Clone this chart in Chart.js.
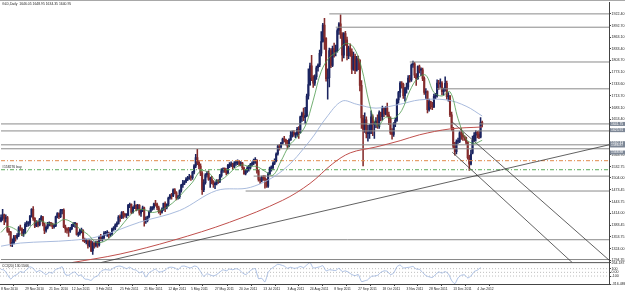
<!DOCTYPE html>
<html>
<head>
<meta charset="utf-8">
<script src="https://cdn.jsdelivr.net/npm/chart.js@4.4.1/dist/chart.umd.min.js"></script>
<style>
  html, body { margin: 0; padding: 0; background: #fff; }
  #wrap { width: 625px; height: 294px; }
</style>
</head>
<body>
<div id="wrap"><canvas id="chart" width="625" height="294"></canvas></div>
<script>
// GOLD daily, 8 Nov 2010 .. 11 Jan 2012 (one entry per bar)
const opens = [1394,1403,1410,1400,1403,1368,1366,1337,1338,1354,1352,1358,1377,1374,1363,1366,1386,1388,1389,1406,
  1424,1401,1382,1391,1384,1398,1405,1387,1370,1378,1387,1389,1387,1380,1382,1405,1413,1405,1421,1422,
  1379,1374,1371,1369,1375,1384,1387,1388,1360,1362,1370,1371,1344,1342,1344,1332,1342,1318,1337,1332,
  1340,1333,1353,1349,1352,1363,1363,1363,1360,1362,1374,1376,1384,1388,1404,1403,1416,1410,1409,1410,
  1434,1436,1416,1429,1434,1425,1434,1414,1421,1428,1395,1395,1405,1418,1427,1428,1438,1437,1428,1418,
  1417,1424,1439,1429,1437,1453,1460,1458,1474,1466,1453,1456,1472,1486,1491,1495,1501,1503,1506,1505,
  1519,1535,1556,1544,1534,1516,1474,1492,1512,1516,1500,1501,1492,1487,1490,1496,1495,1510,1523,1527,
  1526,1517,1536,1536,1540,1533,1542,1543,1545,1540,1542,1530,1515,1522,1529,1531,1539,1542,1549,1549,
  1522,1500,1498,1506,1504,1500,1483,1515,1530,1530,1541,1548,1565,1585,1583,1593,1603,1601,1595,1586,
  1601,1613,1620,1615,1615,1628,1620,1660,1668,1658,1663,1713,1742,1790,1760,1746,1762,1785,1792,1822,
  1852,1894,1860,1757,1760,1829,1791,1834,1826,1829,1880,1897,1871,1817,1872,1856,1816,1835,1826,1781,
  1814,1778,1808,1804,1740,1657,1628,1652,1617,1617,1623,1660,1640,1643,1649,1635,1671,1660,1682,1667,
  1682,1665,1656,1619,1615,1642,1651,1703,1722,1746,1743,1714,1732,1736,1759,1754,1792,1795,1766,1757,
  1788,1779,1780,1758,1722,1724,1678,1699,1686,1685,1712,1713,1746,1744,1746,1724,1730,1745,1711,1712,
  1665,1632,1585,1571,1597,1597,1619,1614,1610,1607,1595,1556,1539,1567,1600,1613,1620,1616,1608,1646.05]
const highs = [1410,1424,1412,1410,1406,1375,1368,1349,1358,1358,1362,1380,1384,1377,1373,1390,1394,1393,1409,1426,
  1431,1403,1395,1394,1401,1408,1406,1389,1382,1391,1392,1391,1389,1386,1407,1416,1415,1424,1424,1425,
  1384,1377,1378,1378,1386,1390,1391,1389,1366,1373,1376,1372,1351,1348,1345,1346,1344,1342,1339,1343,
  1343,1356,1360,1357,1367,1368,1370,1366,1365,1376,1380,1387,1392,1408,1410,1418,1419,1414,1413,1437,
  1440,1438,1431,1445,1436,1437,1436,1424,1432,1430,1405,1407,1420,1431,1431,1440,1447,1440,1432,1422,
  1428,1440,1443,1438,1455,1462,1465,1476,1477,1469,1460,1474,1488,1498,1497,1505,1508,1513,1510,1521,
  1538,1564,1577,1548,1540,1520,1500,1515,1520,1522,1506,1508,1497,1494,1500,1500,1513,1528,1530,1530,
  1528,1539,1543,1545,1542,1546,1548,1550,1548,1546,1544,1532,1526,1533,1536,1541,1545,1552,1556,1551,
  1525,1505,1509,1510,1510,1502,1518,1532,1535,1545,1553,1568,1588,1590,1595,1606,1610,1603,1600,1604,
  1623,1624,1625,1620,1633,1635,1662,1672,1682,1684,1718,1782,1797,1817,1765,1767,1789,1795,1830,1877,
  1898,1911,1862,1782,1835,1834,1840,1848,1843,1885,1900,1920,1875,1875,1878,1863,1840,1846,1833,1825,
  1820,1814,1815,1806,1752,1664,1670,1660,1638,1640,1675,1665,1648,1658,1665,1675,1672,1687,1684,1686,
  1695,1672,1660,1630,1645,1656,1706,1725,1750,1750,1746,1735,1746,1765,1766,1795,1802,1799,1770,1790,
  1792,1785,1784,1762,1732,1726,1705,1700,1697,1718,1720,1754,1753,1757,1750,1733,1762,1751,1722,1715,
  1672,1633,1595,1601,1606,1622,1630,1619,1612,1608,1597,1562,1575,1611,1620,1625,1623,1624,1658,1648.95]
const lows = [1392,1396,1385,1391,1365,1358,1330,1329,1336,1343,1348,1354,1370,1357,1355,1362,1380,1381,1383,1404,
  1396,1377,1380,1379,1382,1394,1382,1362,1366,1374,1382,1381,1375,1376,1380,1402,1400,1403,1412,1377,
  1365,1363,1355,1365,1372,1380,1378,1358,1355,1358,1364,1342,1339,1336,1325,1328,1316,1309,1325,1328,
  1327,1330,1344,1343,1349,1358,1355,1351,1355,1358,1370,1372,1380,1386,1393,1400,1401,1404,1402,1408,
  1428,1413,1414,1426,1420,1422,1409,1406,1418,1381,1388,1392,1402,1416,1422,1424,1432,1423,1414,1410,
  1414,1421,1418,1425,1432,1450,1450,1456,1463,1448,1450,1452,1468,1480,1487,1492,1497,1500,1498,1500,
  1514,1530,1538,1527,1510,1462,1469,1488,1506,1498,1480,1489,1480,1477,1486,1490,1492,1506,1518,1518,
  1512,1515,1530,1533,1526,1530,1536,1538,1535,1535,1526,1513,1512,1518,1521,1527,1535,1538,1541,1516,
  1496,1490,1494,1498,1478,1480,1480,1512,1521,1525,1538,1545,1562,1575,1580,1590,1596,1588,1578,1583,
  1600,1608,1610,1607,1610,1605,1618,1648,1650,1643,1660,1705,1740,1752,1735,1740,1755,1776,1788,1815,
  1850,1832,1751,1705,1736,1785,1788,1812,1815,1825,1870,1860,1802,1810,1842,1805,1808,1814,1770,1778,
  1770,1776,1780,1726,1630,1535,1620,1606,1598,1605,1617,1612,1605,1632,1630,1630,1650,1652,1660,1665,
  1660,1640,1615,1603,1610,1635,1648,1695,1710,1733,1707,1700,1720,1730,1748,1750,1786,1760,1740,1755,
  1772,1765,1752,1717,1707,1670,1674,1680,1678,1683,1706,1710,1730,1735,1716,1715,1725,1705,1700,1660,
  1625,1580,1562,1565,1592,1594,1602,1600,1600,1590,1552,1523,1537,1565,1597,1598,1606,1604,1606,1634.35]
const closes = [1403,1410,1400,1403,1368,1366,1337,1338,1354,1352,1358,1377,1373,1363,1366,1386,1388,1389,1406,1424,
  1401,1382,1391,1384,1398,1405,1387,1370,1378,1387,1389,1387,1379,1382,1405,1413,1405,1421,1422,1379,
  1374,1371,1369,1375,1384,1387,1388,1360,1362,1370,1371,1344,1342,1344,1332,1342,1318,1337,1332,1340,
  1333,1353,1349,1352,1363,1363,1363,1360,1362,1374,1376,1384,1388,1404,1403,1416,1410,1409,1410,1434,
  1436,1416,1429,1434,1425,1434,1414,1421,1428,1395,1395,1405,1418,1427,1428,1438,1437,1428,1418,1417,
  1424,1439,1429,1437,1453,1460,1458,1474,1466,1453,1456,1472,1486,1491,1495,1501,1503,1506,1505,1519,
  1535,1556,1544,1534,1516,1474,1492,1512,1516,1500,1501,1492,1487,1490,1496,1495,1510,1523,1527,1526,
  1517,1536,1536,1540,1533,1542,1543,1545,1540,1542,1530,1515,1522,1529,1531,1539,1542,1549,1549,1522,
  1500,1498,1506,1504,1500,1483,1515,1530,1530,1541,1548,1565,1585,1583,1593,1603,1601,1595,1586,1601,
  1613,1620,1615,1615,1628,1620,1660,1668,1658,1663,1713,1742,1790,1760,1746,1762,1785,1792,1822,1852,
  1894,1860,1757,1760,1829,1791,1834,1826,1829,1880,1897,1871,1817,1872,1856,1816,1835,1826,1781,1814,
  1778,1808,1804,1740,1657,1628,1652,1617,1617,1623,1660,1640,1643,1649,1635,1671,1660,1682,1667,1682,
  1665,1656,1619,1615,1642,1651,1703,1722,1746,1743,1714,1732,1736,1759,1754,1792,1795,1766,1757,1788,
  1779,1780,1758,1722,1724,1678,1699,1686,1685,1712,1713,1746,1744,1746,1724,1730,1745,1711,1712,1665,
  1632,1585,1571,1597,1597,1619,1614,1610,1607,1595,1556,1539,1565,1600,1613,1620,1616,1608,1645,1640.95]

// moving averages (bar index, price)
const fastMaIdx = [0,4,9,14,19,24,29,34,39,44,49,54,59,64,69,74,79,84,89,94,99,104,109,114,119,124,129,134,139,144,
  149,154,159,164,169,174,179,184,189,194,199,204,209,214,219,224,229,234,239,244,249,254,259,264,269,274,279,284,289,294,299]
const fastMaVal = [1365,1380,1373,1358,1383,1395,1388,1387,1398,1391,1374,1360,1340,1342,1357,1378,1403,1422,1423,1416,
  1421,1432,1449,1471,1493,1522,1518,1496,1505,1524,1537,1534,1533,1521,1511,1547,1586,1608,1636,1702,1776,1811,1826,1847,
  1838,1786,1692,1636,1659,1656,1676,1726,1759,1766,1722,1713,1724,1655,1603,1592,1600]
const midMaIdx = [0,12,44,61,86,111,134,155,175,192,202,212,221,233,248,260,277,289,299]
const midMaVal = [1330,1338,1345,1355,1391,1421,1472,1480,1523,1599,1657,1700,1692,1682,1692,1703,1703,1687,1662]
const slowMaIdx = [44,74,107,142,175,192,206,217,233,248,260,279,299]
const slowMaVal = [1288.1,1310,1345,1391,1447,1490,1540,1568,1583,1599,1614,1629,1634]

// CCI(20), one value every second bar
const cciVal = [80,60,-60,-180,-100,-60,20,0,80,150,110,10,50,0,-60,0,-20,80,110,150,
  -60,-80,-20,10,-90,-70,-180,-190,-220,-130,-100,20,70,70,60,120,160,170,140,100,
  140,80,60,-10,20,-130,-10,40,90,10,20,60,130,140,120,70,160,170,140,120,
  170,150,20,-110,-40,-70,-100,-60,10,70,40,90,70,100,70,-10,-60,10,80,100,
  -170,-160,-260,0,100,160,220,200,170,110,140,110,120,160,130,200,264,120,130,150,
  180,40,70,60,50,110,20,40,0,-60,-90,-60,-250,-230,-200,-110,-100,-80,0,40,
  30,-60,-20,150,200,120,130,140,160,90,80,0,-90,-120,-140,-60,10,-20,20,-40,
  -220,-310,-150,-80,-70,-150,-100,20,60,130.5566]
const cciLevels = [100, 0, -100]
const cciTicks = [264.1871, 100, 0, -100, -316.486]
const cciTickLabels = ['264.1871', '100', '0.00', '-100', '-316.486']

// horizontal lines drawn on the chart: price and first bar
const levelPrices = [1922.4, 1888.4, 1799.7, 1731.3, 1641.75, 1623.9, 1588.5, 1578.4, 1508.7, 1470.7, 1346.5, 1296.0]
const levelFrom = [204, 208, 254, 271, 0, 0, 0, 0, 157, 152, 53, 0]
const orderPrices = [1548, 1525]
const orderText = '#158276 buy'
// trend lines: [bar, price] -> [bar, price]
const trendFrom = [[62, 1288.1], [280.4, 1569.6], [280.4, 1646.6]]
const trendTo = [[377.8, 1588.5], [355, 1288.1], [377.8, 1294.6]]

const priceTickLabels = ['1922.40','1892.70','1863.10','1833.40','1803.70','1773.10','1743.60','1713.70','1683.10',
  '1653.40','1623.70','1593.40','1563.70','1532.75','1504.00','1473.45','1443.75','1414.00','1383.45','1353.75','1324.00','1294.35']
const markedPrices = [1641.75, 1625.91, 1592.43, 1586.87, 1568.88]
const dateLabels = ['8 Nov 2010','29 Nov 2010','21 Dec 2010','12 Jan 2011','3 Feb 2011','25 Feb 2011','21 Mar 2011',
  '12 Apr 2011','5 May 2011','27 May 2011','20 Jun 2011','13 Jul 2011','3 Aug 2011','24 Aug 2011','8 Sep 2011',
  '27 Sep 2011','18 Oct 2011','3 Nov 2011','28 Nov 2011','13 Dec 2011','4 Jan 2012']
const dateTickIdx = [0,15,30,44,59,74,89,104,118,133,148,163,178,192,207,222,237,252,266,281,296]
const titleText = 'GLD,Daily  1646.05 1648.95 1634.35 1640.95'
const cciTitle = 'CCI(20) 130.5566'

const FONT = 'Liberation Sans, Arial, sans-serif'
const X_MAX = 377.8
const BULL = '#1b2460'
const BEAR = '#852c2c'

const candleColor = closes.map((c, i) => c >= opens[i] ? BULL : BEAR)

const datasets = []

// moving averages
function maSet(idx, val, color, width) {
  return {
    type: 'line', yAxisID: 'y', order: 1,
    data: idx.map((x, i) => ({ x, y: val[i] })),
    borderColor: color, borderWidth: width, pointRadius: 0, tension: 0.35
  }
}
datasets.push(maSet(fastMaIdx, fastMaVal, '#4e9a4e', 0.8))
datasets.push(maSet(midMaIdx, midMaVal, '#9fb3d9', 0.9))
datasets.push(maSet(slowMaIdx, slowMaVal, '#c0504d', 1))

// trend lines
trendFrom.forEach((p, i) => {
  datasets.push({
    type: 'line', yAxisID: 'y', order: 2,
    data: [{ x: p[0], y: p[1] }, { x: trendTo[i][0], y: trendTo[i][1] }],
    borderColor: '#3a3a3a', borderWidth: 0.8, pointRadius: 0
  })
})

// horizontal levels
levelPrices.forEach((p, i) => {
  datasets.push({
    type: 'line', yAxisID: 'y', order: 3,
    data: [{ x: levelFrom[i], y: p }, { x: X_MAX, y: p }],
    borderColor: '#8a8a8a', borderWidth: 1, pointRadius: 0
  })
})
orderPrices.forEach((p, i) => {
  datasets.push({
    type: 'line', yAxisID: 'y', order: 3,
    data: [{ x: 0, y: p }, { x: X_MAX, y: p }],
    borderColor: i === 0 ? '#e0894a' : '#5aab5a', borderWidth: 1, borderDash: [4, 2, 1, 2], pointRadius: 0
  })
})

// CCI
datasets.push({
  type: 'line', yAxisID: 'c', order: 1,
  data: cciVal.map((v, i) => ({ x: i * 2, y: v })),
  borderColor: '#8aa6d8', borderWidth: 0.7, pointRadius: 0, tension: 0.2
})
cciLevels.forEach(v => {
  datasets.push({
    type: 'line', yAxisID: 'c', order: 3,
    data: [{ x: -0.6, y: v }, { x: X_MAX, y: v }],
    borderColor: '#a0a0a0', borderWidth: 0.7, borderDash: [1, 2], pointRadius: 0
  })
})

// candles: wick then body
datasets.push({
  type: 'bar', yAxisID: 'y', order: 10, grouped: false,
  data: lows.map((l, i) => ({ x: i, y: [l, highs[i]] })),
  backgroundColor: candleColor, barThickness: 0.9
})
datasets.push({
  type: 'bar', yAxisID: 'y', order: 9, grouped: false,
  data: opens.map((o, i) => ({ x: i, y: [o, closes[i]] })),
  backgroundColor: candleColor, barThickness: 1.4, minBarLength: 1
})

const overlay = {
  id: 'overlay',
  afterDraw(chart) {
    const { ctx, chartArea, scales } = chart
    const y = scales.y
    ctx.save()
    // top frame
    ctx.fillStyle = '#a8a8a8'
    ctx.fillRect(0, 0, 625, 1)
    // panel separator
    ctx.fillStyle = '#555'
    ctx.fillRect(chartArea.left, y.bottom - 0.5, chartArea.right - chartArea.left, 1)

    ctx.font = '3.4px ' + FONT
    ctx.fillStyle = '#222'
    ctx.textBaseline = 'top'
    ctx.fillText(titleText, 2, 2.5)
    ctx.fillText(cciTitle, 2, y.bottom + 2)
    ctx.textBaseline = 'bottom'
    ctx.fillText(orderText, 2, y.getPixelForValue(orderPrices[1]) - 1)

    // marked prices on the axis
    ctx.textBaseline = 'middle'
    markedPrices.forEach(p => {
      const py = y.getPixelForValue(p)
      ctx.fillStyle = '#7d8796'
      ctx.fillRect(y.left + 1, py - 2, 15, 4)
      ctx.fillStyle = '#fff'
      ctx.fillText(p.toFixed(2), y.left + 2, py)
    })
    ctx.restore()
  }
}

const dateFont = { size: 3.3, family: FONT }
const priceFont = { size: 3.6, family: FONT }

new Chart(document.getElementById('chart'), {
  data: { datasets },
  options: {
    responsive: false,
    animation: false,
    layout: { padding: { top: 1, left: 0, right: 0, bottom: 0 } },
    plugins: { legend: { display: false }, tooltip: { enabled: false } },
    scales: {
      x: {
        type: 'linear', min: -0.6, max: X_MAX, offset: false,
        grid: { display: true, drawOnChartArea: false, tickLength: 2, color: '#444' },
        border: { display: true, color: '#444' },
        ticks: {
          font: dateFont, color: '#222', padding: 1, maxRotation: 0, autoSkip: false, align: 'start',
          callback: (v, i) => dateLabels[i]
        },
        afterBuildTicks: s => { s.ticks = dateTickIdx.map(v => ({ value: v })) },
        afterFit: s => { s.height = 10 }
      },
      y: {
        type: 'linear', position: 'right', stack: 'p', stackWeight: 261.5,
        min: 1288.1, max: 1951,
        grid: { display: true, drawOnChartArea: false, tickLength: 2, color: '#444' },
        border: { display: true, color: '#444' },
        ticks: { font: priceFont, color: '#222', padding: 0.5, autoSkip: false, callback: (v, i) => priceTickLabels[i] },
        afterBuildTicks: s => { s.ticks = priceTickLabels.map(t => ({ value: parseFloat(t) })) },
        afterFit: s => { s.width = 16 }
      },
      c: {
        type: 'linear', position: 'right', stack: 'p', stackWeight: 21.5,
        min: -316.486, max: 264.1871,
        grid: { display: true, drawOnChartArea: false, tickLength: 2, color: '#444' },
        border: { display: true, color: '#444' },
        ticks: { font: priceFont, color: '#222', padding: 0.5, autoSkip: false, callback: (v, i) => cciTickLabels[i] },
        afterBuildTicks: s => { s.ticks = cciTicks.map(v => ({ value: v })) },
        afterFit: s => { s.width = 16 }
      }
    }
  },
  plugins: [overlay]
})
</script>
</body>
</html>
